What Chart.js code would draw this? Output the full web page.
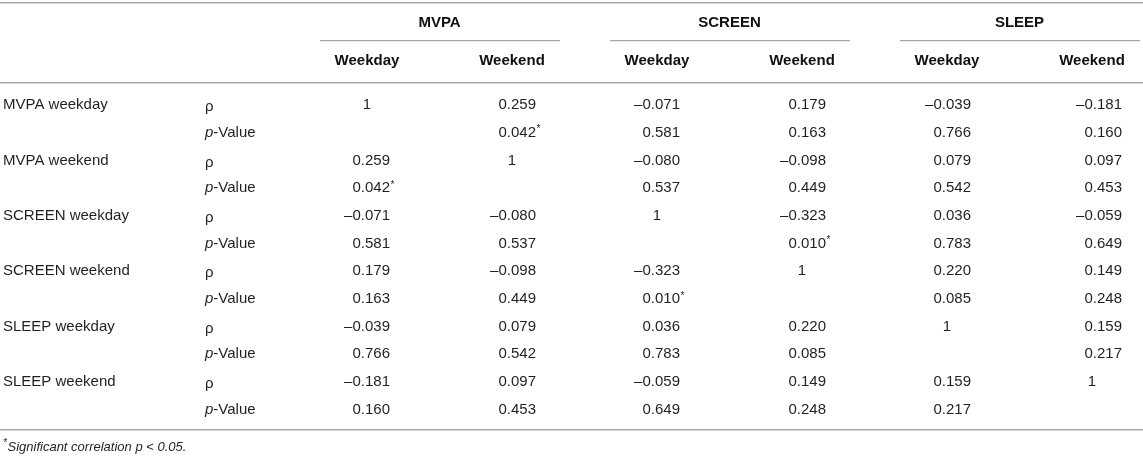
<!DOCTYPE html>
<html><head><meta charset="utf-8">
<script src="https://cdn.jsdelivr.net/npm/chart.js@4/dist/chart.umd.min.js"></script>
<style>html,body{margin:0;padding:0;background:#fff;overflow:hidden}</style>
</head><body>
<canvas id="c" width="1143" height="458" style="width:1143px;height:458px;display:block"></canvas>
<script>
// ---- DATA ----
const groups = ['MVPA', 'SCREEN', 'SLEEP'];
const subCols = ['Weekday', 'Weekend'];
const rowVars = ['MVPA weekday', 'MVPA weekend', 'SCREEN weekday', 'SCREEN weekend', 'SLEEP weekday', 'SLEEP weekend'];
const statLabels = ['ρ', 'p-Value'];
const rho = [
  [1, 0.259, -0.071, 0.179, -0.039, -0.181],
  [0.259, 1, -0.080, -0.098, 0.079, 0.097],
  [-0.071, -0.080, 1, -0.323, 0.036, -0.059],
  [0.179, -0.098, -0.323, 1, 0.220, 0.149],
  [-0.039, 0.079, 0.036, 0.220, 1, 0.159],
  [-0.181, 0.097, -0.059, 0.149, 0.159, 1]
];
const pValue = [
  [null, 0.042, 0.581, 0.163, 0.766, 0.160],
  [0.042, null, 0.537, 0.449, 0.542, 0.453],
  [0.581, 0.537, null, 0.010, 0.783, 0.649],
  [0.163, 0.449, 0.010, null, 0.085, 0.248],
  [0.766, 0.542, 0.783, 0.085, null, 0.217],
  [0.160, 0.453, 0.649, 0.248, 0.217, null]
];
const sigLevel = 0.05;
const footnote = 'Significant correlation ';

// ---- STYLE ----
const FONT = "'Liberation Sans', Arial, Helvetica, sans-serif";
const TXT = '#231f20';
const RULE = '#a8a8a8';
const rightOffset = [23, 24, 23, 24, 24, 30];

function fmt(v) {
  if (v === 1) return '1';
  const s = Math.abs(v).toFixed(3);
  return v < 0 ? '\u2013' + s : s;
}

const rhoPts = [], pPts = [];
rowVars.forEach((rv, r) => {
  rho[r].forEach((v, c) => { if (v !== null) rhoPts.push({x: c, y: 2 * r, v: v, sig: false}); });
  pValue[r].forEach((v, c) => { if (v !== null) pPts.push({x: c, y: 2 * r + 1, v: v, sig: v < sigLevel}); });
});

const tablePlugin = {
  id: 'tablePlugin',
  afterDraw(chart) {
    const ctx = chart.ctx;
    const xs = chart.scales.x, ys = chart.scales.y;
    const W = chart.width;
    ctx.save();
    // rules
    ctx.strokeStyle = RULE;
    ctx.lineWidth = 1.6;
    const hline = (y, x0, x1) => { ctx.beginPath(); ctx.moveTo(x0, y); ctx.lineTo(x1, y); ctx.stroke(); };
    hline(2.7, 0, W);
    hline(82.7, 0, W);
    hline(429.7, 0, W);
    ctx.lineWidth = 1.3;
    groups.forEach((g, gi) => {
      const a = xs.getPixelForValue(2 * gi), b = xs.getPixelForValue(2 * gi + 1);
      hline(40.7, a - 47, Math.min(b + 48, W));
    });
    // headers
    ctx.fillStyle = '#111';
    ctx.font = 'bold 15px ' + FONT;
    ctx.textAlign = 'center';
    ctx.textBaseline = 'middle';
    groups.forEach((g, gi) => {
      ctx.fillText(g, xs.getPixelForValue(2 * gi + 0.5), 23);
      subCols.forEach((s, si) => ctx.fillText(s, xs.getPixelForValue(2 * gi + si), 61));
    });
    // row labels
    ctx.fillStyle = TXT;
    ctx.textAlign = 'left';
    rowVars.forEach((rv, r) => {
      const yr = ys.getPixelForValue(2 * r), yp = ys.getPixelForValue(2 * r + 1);
      ctx.font = '15px ' + FONT;
      ctx.fillText(rv, 3, yr);
      ctx.font = '15px ' + FONT;
      ctx.fillText(statLabels[0], 205, yr + 2);
      ctx.font = 'italic 15px ' + FONT;
      ctx.fillText('p', 205, yp);
      const pw = ctx.measureText('p').width;
      ctx.font = '15px ' + FONT;
      ctx.fillText(statLabels[1].slice(1), 205 + pw, yp);
    });
    // values from dataset elements
    chart.data.datasets.forEach((ds, di) => {
      const meta = chart.getDatasetMeta(di);
      meta.data.forEach((el, i) => {
        const d = ds.data[i];
        const txt = fmt(d.v);
        ctx.font = '15px ' + FONT;
        if (txt === '1') {
          ctx.textAlign = 'center';
          ctx.fillText(txt, el.x, el.y);
        } else {
          ctx.textAlign = 'right';
          const xr = el.x + rightOffset[d.x];
          ctx.fillText(txt, xr, el.y);
          if (d.sig) {
            ctx.textAlign = 'left';
            ctx.font = '10px ' + FONT;
            ctx.fillText('*', xr + 0.5, el.y - 3);
          }
        }
      });
    });
    // footnote
    ctx.textAlign = 'left';
    ctx.font = 'italic 10px ' + FONT;
    ctx.fillText('*', 3, 443);
    ctx.font = 'italic 13px ' + FONT;
    let x = 7.5;
    ctx.fillText(footnote, x, 447); x += ctx.measureText(footnote).width;
    ctx.fillText('p', x, 447); x += ctx.measureText('p').width;
    ctx.font = '13px ' + FONT;
    ctx.fillText(' < ', x, 447); x += ctx.measureText(' < ').width;
    ctx.font = 'italic 13px ' + FONT;
    ctx.fillText(String(sigLevel) + '.', x, 447);
    ctx.restore();
  }
};

// x: column index 0..5 -> centers at 367 + 145*i ; y: row index 0..11 -> 105 + 27.7*r
const colStep = 145, col0 = 367, rowStep = 27.7, row0 = 105;
new Chart(document.getElementById('c'), {
  type: 'scatter',
  data: {
    datasets: [
      {label: 'rho', data: rhoPts, pointRadius: 0, pointHoverRadius: 0},
      {label: 'p', data: pPts, pointRadius: 0, pointHoverRadius: 0}
    ]
  },
  options: {
    responsive: false,
    animation: false,
    events: [],
    layout: {padding: 0},
    scales: {
      x: {type: 'linear', display: false, min: -col0 / colStep, max: (1143 - col0) / colStep},
      y: {type: 'linear', display: false, reverse: true, min: -row0 / rowStep, max: (458 - row0) / rowStep}
    },
    plugins: {legend: {display: false}, tooltip: {enabled: false}}
  },
  plugins: [tablePlugin]
});
</script>
</body></html>
